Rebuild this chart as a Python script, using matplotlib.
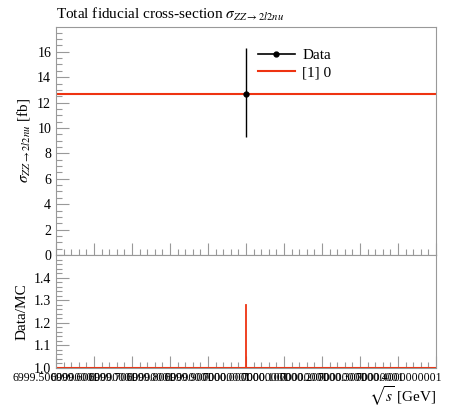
import matplotlib
matplotlib.use("Agg")
import matplotlib.pyplot as plt
from matplotlib.ticker import MultipleLocator, FixedLocator, FormatStrFormatter
from matplotlib.lines import Line2D

plt.rcParams['font.family'] = ['Liberation Serif', 'DejaVu Serif']
plt.rcParams['mathtext.fontset'] = 'stix'

# Data
data_x = [7000.0]
data_y = [12.7]
data_err_lo = [3.4]
data_err_hi = [3.6]
mc_y = 12.7
ratio_spike = 1.28
xtick_vals = [6999.5, 6999.6, 6999.7, 6999.8, 6999.9, 7000.0, 7000.1, 7000.2, 7000.3, 7000.4]
xtick_labels = ["6999.5000000001", "6999.6000000001", "6999.7000000001", "6999.8000000001",
                "6999.9000000001", "7000.0000000001", "7000.1000000001", "7000.2000000001",
                "7000.3000000001", "7000.4000000001"]
ratio_ticks = [1.0, 1.1, 1.2, 1.3, 1.4]

red = '#EE3311'
grey = '#999999'

fig = plt.figure(figsize=(4.5, 4.07), dpi=100)
ax = fig.add_axes([56/450, 1-255/407, 380/450, 228/407])
rax = fig.add_axes([56/450, 1-368/407, 380/450, 113/407], sharex=ax)

xmin, xmax = 6999.5, 7000.5

ax.plot([xmin, xmax], [mc_y, mc_y], color=red, lw=1.5, zorder=2)
ax.errorbar(data_x, data_y, yerr=[data_err_lo, data_err_hi], fmt='o', color='black',
            ms=3.5, lw=1.0, capsize=0, zorder=3)
ax.set_xlim(xmin, xmax)
ax.set_ylim(0, 17.95)
ax.yaxis.set_major_locator(MultipleLocator(2))
ax.yaxis.set_minor_locator(MultipleLocator(0.5))
ax.set_ylabel(r'$\sigma_{ZZ\to 2l2nu}$ [fb]', fontsize=11)
ax.set_title(r'Total fiducial cross-section $\sigma_{ZZ\to 2l2nu}$', fontsize=11, loc='left', pad=6)

handles = [Line2D([], [], color='black', lw=1.2, marker='o', ms=3.5),
           Line2D([], [], color=red, lw=1.5)]
ax.legend(handles, ['Data', '[1] 0'], loc='upper left', bbox_to_anchor=(0.495, 0.965), frameon=False,
          fontsize=11, handlelength=2.4, handletextpad=0.5, labelspacing=0.2)

rax.plot([xmin, xmax], [1.0, 1.0], color=red, lw=1.5, zorder=2)
rax.plot([7000.0, 7000.0], [1.0, ratio_spike], color=red, lw=1.3, zorder=2)
rax.set_ylim(1.0, 1.5)
rax.set_ylabel('Data/MC', fontsize=11)
rax.set_xlabel(r'$\sqrt{s}$ [GeV]', fontsize=11, loc='right', labelpad=0)

for a in (ax, rax):
    for s in a.spines.values():
        s.set_color(grey)
    a.tick_params(which='both', direction='in', color=grey, top=False, right=False, labelsize=10)
    a.tick_params(which='major', length=9, width=0.8)
    a.tick_params(which='minor', length=4.5, width=0.8)
    a.xaxis.set_minor_locator(MultipleLocator(0.02))

ax.tick_params(axis='x', labelbottom=False)
rax.set_xticks([xmin + 0.1*i for i in range(11)])
rax.set_xticklabels(xtick_labels + [''])
rax.tick_params(axis='x', labelsize=8.5, pad=3)
rax.yaxis.set_major_locator(FixedLocator(ratio_ticks))
rax.yaxis.set_minor_locator(MultipleLocator(0.02))
rax.yaxis.set_major_formatter(FormatStrFormatter('%.1f'))

fig.savefig('out.png', dpi=100)
